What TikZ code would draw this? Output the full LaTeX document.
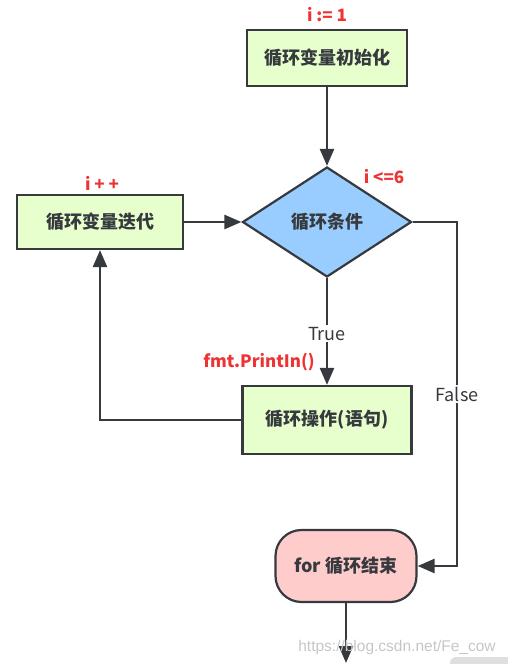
\documentclass[tikz,border=0pt]{standalone}
\usepackage{fontspec}
\setmainfont{Noto Sans CJK SC}
\newfontfamily\markfont{Liberation Sans}
\usetikzlibrary{shapes.geometric,arrows.meta}
\definecolor{boxgreen}{HTML}{E6FFCC}
\definecolor{boxblue}{HTML}{99CCFF}
\definecolor{boxpink}{HTML}{FFCCCC}
\definecolor{linegray}{HTML}{36393D}
\definecolor{labelred}{HTML}{EE3333}
\begin{document}
\begin{tikzpicture}[x=1pt,y=-1pt,
    box/.style={draw=linegray,line width=2.2pt,fill=boxgreen,text=linegray,
      font=\fontsize{18}{20}\selectfont\bfseries,inner sep=0pt},
    cond/.style={diamond,draw=linegray,line width=2.2pt,fill=boxblue,text=linegray,
      font=\fontsize{18}{20}\selectfont\bfseries,inner sep=0pt,
      minimum width=169pt,minimum height=110pt},
    terminal/.style={draw=linegray,line width=2.2pt,fill=boxpink,text=linegray,
      rounded corners=26pt,font=\fontsize{18}{20}\selectfont\bfseries,
      minimum width=141pt,minimum height=72pt},
    flow/.style={draw=linegray,line width=2.5pt,
      -{Triangle[length=17pt,width=14pt]}},
    redlabel/.style={text=labelred,font=\fontsize{17}{19}\selectfont\bfseries},
    edgelabel/.style={fill=white,text=linegray,inner sep=2pt,
      font=\fontsize{18}{20}\selectfont}]
  \useasboundingbox (0,0) rectangle (507,664);
  % blocks
  \node (init) at (327,58) [box,minimum width=160pt,minimum height=56pt] {循环变量初始化};
  \node (test) at (327,222) [cond] {循环条件};
  \node (step) at (100,222) [box,minimum width=166pt,minimum height=54pt] {循环变量迭代};
  \node (body) at (327,420) [box,minimum width=169pt,minimum height=68pt] {循环操作(语句)};
  \node (done) at (346,566) [terminal] {for 循环结束};
  % red notes
  \node (initnote) at (327,15) [redlabel] {i := 1};
  \node (testnote) at (384,177) [redlabel] {i <=6};
  \node (stepnote) at (102,183) [redlabel] {i + +};
  \node (bodynote) at (259,362) [redlabel] {fmt.PrintIn()};
  % corners
  \coordinate (fcorner) at (457,222);
  \coordinate (exit) at (346,663);
  % connectors
  \draw[flow] (init) -- (test);
  \draw[flow] (step) -- (test);
  \draw[flow] (test) -- node[edgelabel,pos=0.52] {True} (body);
  \draw[flow] (body.west) -| (step.south);
  \draw[flow] (test.east) -- (fcorner) |- node[edgelabel,pos=0.25] {False} (done.east);
  \draw[flow] (done) -- (exit);
  % watermark
  \fill[gray!25,rounded corners=6pt] (450,657) rectangle (520,680);
  \node (mark) at (397,647) [text=gray!45,font=\markfont\fontsize{15.5}{17}\selectfont] {https://blog.csdn.net/Fe\_cow};
\end{tikzpicture}
\end{document}
